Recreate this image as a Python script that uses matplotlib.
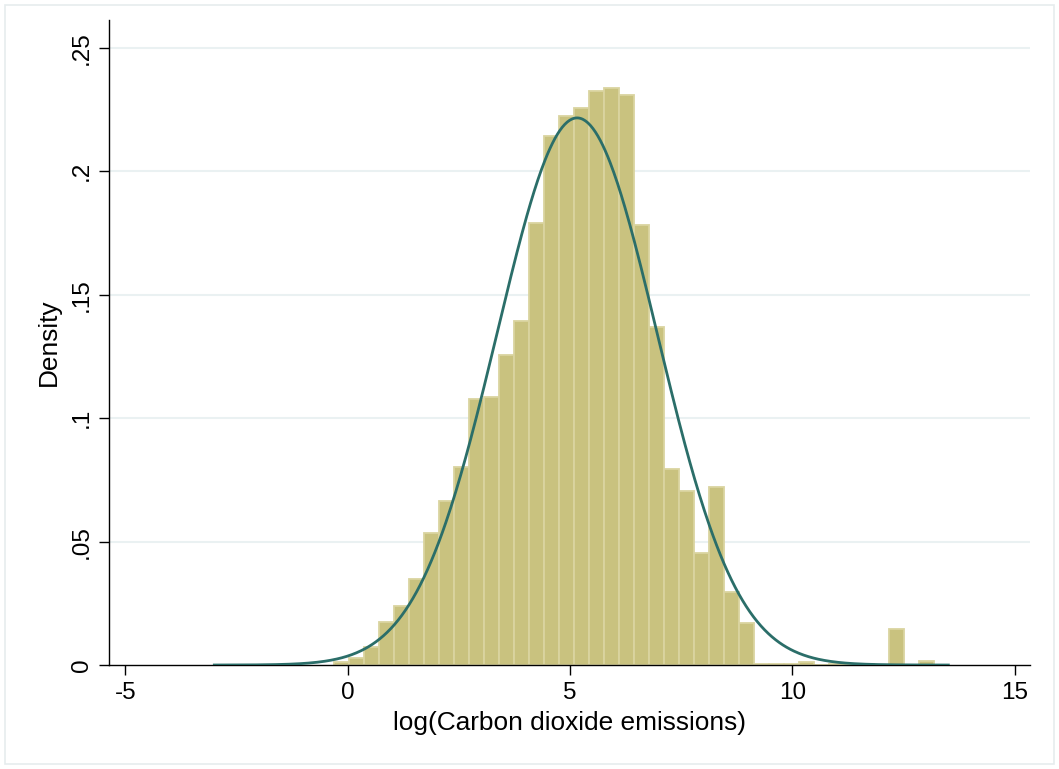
import numpy as np
import matplotlib
matplotlib.use("Agg")
import matplotlib.pyplot as plt
from matplotlib.patches import Rectangle

# ── DATA ─────────────────────────────────────────────────────────────────────
BIN_START = -0.301      # left edge of the first bin
BIN_WIDTH = 0.3374      # 40 bins
DENSITY = [
    0.0012, 0.0027, 0.0072, 0.0174, 0.0238, 0.0347, 0.0535, 0.0663,
    0.0802, 0.1078, 0.1086, 0.1256, 0.1394, 0.1790, 0.2143, 0.2223,
    0.2256, 0.2324, 0.2337, 0.2310, 0.1782, 0.1370, 0.0794, 0.0705,
    0.0453, 0.0720, 0.0297, 0.0169, 0.0004, 0.0004, 0.0004, 0.0012,
    0.0000, 0.0004, 0.0004, 0.0004, 0.0000, 0.0146, 0.0000, 0.0017,
]
NORM_MEAN = 5.16
NORM_SD = 1.80
CURVE_RANGE = (-3.0, 13.51)

X_TICKS = [-5, 0, 5, 10, 15]
Y_TICKS = [0, 0.05, 0.1, 0.15, 0.2, 0.25]
Y_TICKLABELS = ["0", ".05", ".1", ".15", ".2", ".25"]

# ── STYLE ────────────────────────────────────────────────────────────────────
plt.rcParams["font.family"] = ["Liberation Sans", "DejaVu Sans"]
c_bar = "#C9C27F"
c_edge = "#DAD4A0"
c_line = "#2B6E69"
c_grid = "#EAF1F2"
FS = 17.5        # tick labels
FS_TITLE = 18.9  # axis titles

fig = plt.figure(figsize=(10.59, 7.69), dpi=100)
ax = fig.add_axes([0.1029, 0.1352, 0.8697, 0.8388])

edges = BIN_START + BIN_WIDTH * np.arange(len(DENSITY))
ax.bar(edges, DENSITY, width=BIN_WIDTH, align="edge",
       color=c_bar, edgecolor=c_edge, linewidth=1.3, zorder=2)

xs = np.linspace(CURVE_RANGE[0], CURVE_RANGE[1], 600)
pdf = np.exp(-0.5 * ((xs - NORM_MEAN) / NORM_SD) ** 2) / (NORM_SD * np.sqrt(2 * np.pi))
ax.plot(xs, pdf, color=c_line, lw=2.0, zorder=3)

ax.set_xlim(-5.369, 15.346)
ax.set_ylim(0, 0.2613)

ax.set_xticks(X_TICKS)
ax.set_xticklabels([str(t) for t in X_TICKS])
ax.set_yticks(Y_TICKS)
ax.set_yticklabels(Y_TICKLABELS, rotation=90, va="center")
for y in Y_TICKS[1:]:
    ax.axhline(y, color=c_grid, lw=1.5, zorder=1)

ax.tick_params(axis="both", direction="out", length=7.5, width=1.0,
               labelsize=FS, color="black")
ax.tick_params(axis="x", pad=5)
ax.tick_params(axis="y", pad=4)

for s in ("top", "right"):
    ax.spines[s].set_visible(False)
for s in ("left", "bottom"):
    ax.spines[s].set_linewidth(1.0)

ax.set_xlabel("log(Carbon dioxide emissions)", fontsize=FS_TITLE, labelpad=5)
ax.set_ylabel("Density", fontsize=FS_TITLE, labelpad=7)

# faint outer graph-region frame
fig.patches.append(Rectangle((5 / 1059, 5 / 769), 1 - 10 / 1059, 1 - 10 / 769,
                             transform=fig.transFigure, fill=False,
                             edgecolor="#E6ECEE", lw=1.2))

fig.savefig("out.png", dpi=100)
